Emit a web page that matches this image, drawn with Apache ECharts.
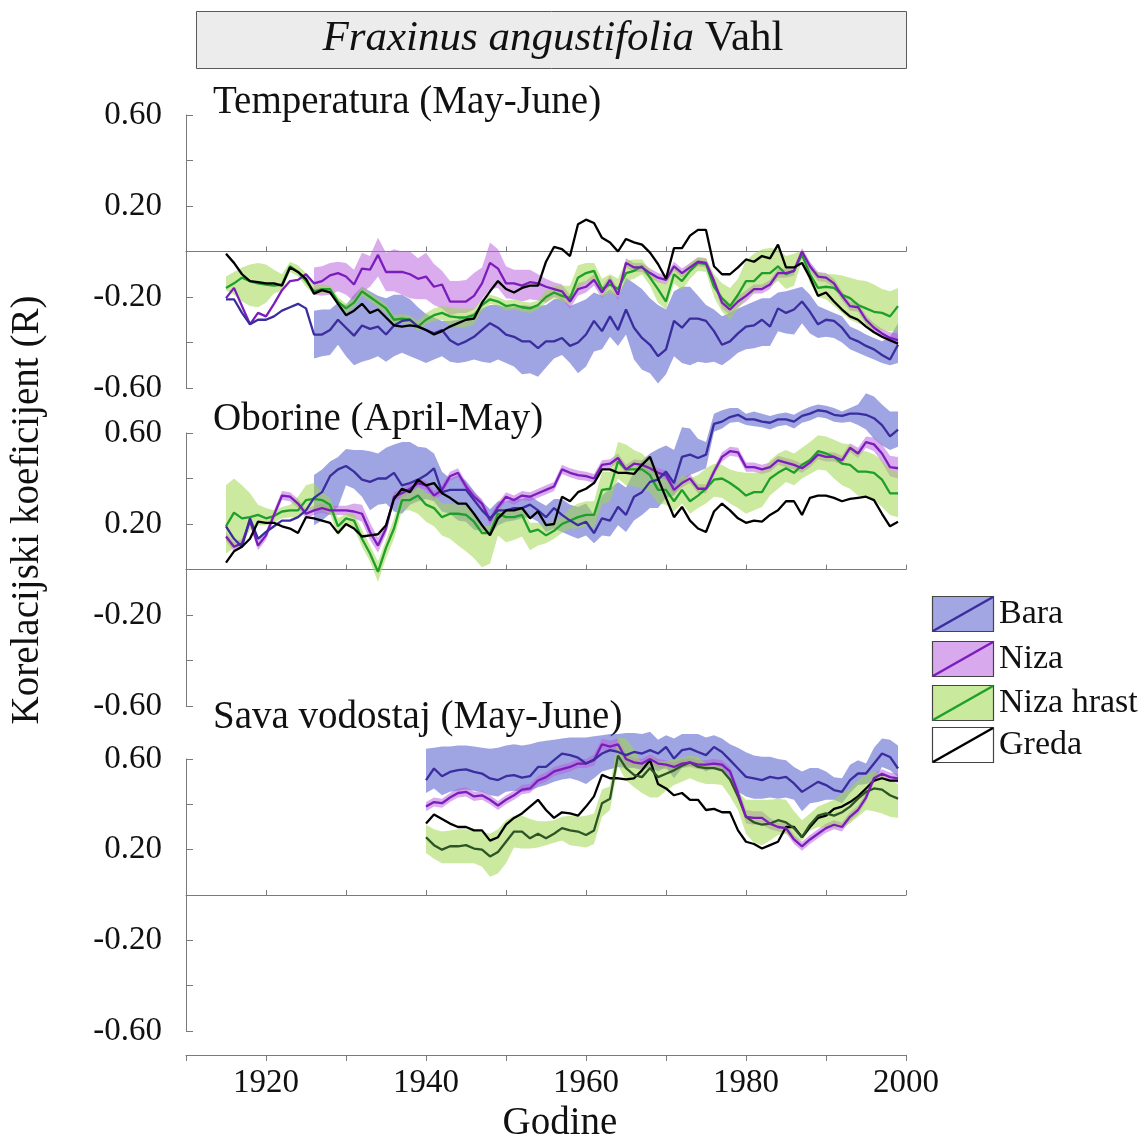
<!DOCTYPE html>
<html><head><meta charset="utf-8">
<script src="https://cdn.jsdelivr.net/npm/echarts@6/dist/echarts.min.js"></script>
<style>html,body{margin:0;padding:0;background:#fff}#c{width:1148px;height:1139px}</style>
</head><body><div id="c"></div>
<script>
// ---------------- DATA ----------------
const SERIES_NAMES = ['Bara', 'Niza', 'Niza hrast', 'Greda'];
const PANEL_TITLES = ['Temperatura (May-June)', 'Oborine (April-May)', 'Sava vodostaj (May-June)'];
const X_TICK_LABELS = [1920, 1940, 1960, 1980, 2000];
const Y_TICK_LABELS = [0.6, 0.2, -0.2, -0.6];

// Panel 1: Temperatura, lines 1915-1999, Bara/Niza bands 1926-1999, Niza hrast band 1915-1999
const T_START = 1915, T_BAND_START = 1926;
const T_bara = [-0.21,-0.21,-0.27,-0.32,-0.30,-0.30,-0.285,-0.26,-0.245,-0.23,
 -0.25,-0.365,-0.365,-0.345,-0.30,-0.335,-0.37,-0.325,-0.34,-0.33,
 -0.365,-0.325,-0.305,-0.30,-0.33,-0.345,-0.36,-0.345,-0.39,-0.41,
 -0.395,-0.375,-0.345,-0.315,-0.335,-0.365,-0.375,-0.395,-0.395,-0.425,
 -0.395,-0.395,-0.38,-0.415,-0.40,-0.365,-0.305,-0.35,-0.285,-0.345,
 -0.255,-0.335,-0.38,-0.41,-0.46,-0.43,-0.305,-0.335,-0.295,-0.295,
 -0.305,-0.35,-0.41,-0.395,-0.36,-0.33,-0.325,-0.30,-0.33,-0.25,
 -0.27,-0.255,-0.22,-0.265,-0.32,-0.30,-0.305,-0.335,-0.38,-0.395,
 -0.415,-0.43,-0.455,-0.475,-0.41];
const T_bara_hi = [-0.26,-0.255,-0.255,-0.225,-0.235,-0.19,-0.155,-0.175,-0.195,-0.205,
 -0.19,-0.19,-0.21,-0.245,-0.275,-0.29,-0.305,-0.305,-0.30,-0.285,
 -0.27,-0.25,-0.235,-0.235,-0.245,-0.245,-0.235,-0.24,-0.24,-0.235,
 -0.21,-0.205,-0.24,-0.225,-0.21,-0.18,-0.195,-0.165,-0.2,-0.115,
 -0.14,-0.165,-0.205,-0.235,-0.255,-0.175,-0.155,-0.155,-0.195,-0.235,
 -0.255,-0.285,-0.27,-0.25,-0.235,-0.22,-0.205,-0.205,-0.18,-0.175,
 -0.165,-0.155,-0.19,-0.24,-0.255,-0.27,-0.285,-0.33,-0.345,-0.365,
 -0.38,-0.395,-0.375,-0.315];
const T_bara_lo = [-0.47,-0.46,-0.455,-0.41,-0.46,-0.50,-0.485,-0.475,-0.46,-0.485,
 -0.46,-0.445,-0.46,-0.475,-0.49,-0.475,-0.46,-0.485,-0.49,-0.485,
 -0.475,-0.485,-0.49,-0.475,-0.49,-0.505,-0.54,-0.535,-0.55,-0.51,
 -0.47,-0.455,-0.49,-0.535,-0.505,-0.44,-0.43,-0.375,-0.415,-0.365,
 -0.475,-0.52,-0.535,-0.58,-0.54,-0.46,-0.49,-0.50,-0.485,-0.49,
 -0.485,-0.50,-0.475,-0.445,-0.43,-0.425,-0.415,-0.415,-0.35,-0.36,
 -0.365,-0.315,-0.36,-0.38,-0.375,-0.38,-0.40,-0.43,-0.445,-0.46,
 -0.475,-0.49,-0.50,-0.49];
const T_niza = [-0.205,-0.16,-0.24,-0.32,-0.27,-0.285,-0.23,-0.17,-0.13,-0.125,
 -0.10,-0.14,-0.13,-0.105,-0.095,-0.11,-0.145,-0.075,-0.08,-0.015,
 -0.09,-0.09,-0.09,-0.10,-0.12,-0.11,-0.155,-0.145,-0.22,-0.22,
 -0.22,-0.195,-0.14,-0.05,-0.075,-0.14,-0.14,-0.15,-0.135,-0.14,
 -0.155,-0.165,-0.175,-0.22,-0.165,-0.155,-0.125,-0.18,-0.125,-0.19,
 -0.05,-0.07,-0.07,-0.095,-0.115,-0.125,-0.065,-0.095,-0.07,-0.045,
 -0.05,-0.13,-0.225,-0.255,-0.22,-0.195,-0.165,-0.165,-0.145,-0.095,
 -0.095,-0.085,0.0,-0.065,-0.11,-0.115,-0.14,-0.195,-0.24,-0.245,
 -0.30,-0.335,-0.36,-0.38,-0.39];
const T_niza_hi = [-0.07,-0.065,-0.05,-0.045,-0.05,-0.08,-0.005,-0.02,0.06,-0.005,
 0.01,0.0,0.0,-0.03,-0.005,-0.055,-0.085,-0.13,-0.13,-0.125,
 -0.095,-0.07,0.04,0.01,-0.065,-0.08,-0.08,-0.08,-0.10,-0.12,
 -0.135,-0.145,-0.19,-0.14,-0.13,-0.10,-0.155,-0.105,-0.165,-0.03,
 -0.05,-0.05,-0.075,-0.095,-0.105,-0.045,-0.075,-0.05,-0.025,-0.03,
 -0.11,-0.20,-0.23,-0.195,-0.17,-0.145,-0.145,-0.125,-0.075,-0.075,
 -0.065,0.015,-0.045,-0.09,-0.095,-0.12,-0.175,-0.22,-0.225,-0.28,
 -0.315,-0.34,-0.355,-0.36];
const T_niza_lo = [-0.19,-0.195,-0.19,-0.175,-0.19,-0.22,-0.18,-0.155,-0.11,-0.175,
 -0.175,-0.19,-0.205,-0.21,-0.21,-0.235,-0.25,-0.28,-0.27,-0.27,
 -0.255,-0.21,-0.165,-0.16,-0.205,-0.21,-0.22,-0.21,-0.215,-0.225,
 -0.2,-0.21,-0.25,-0.195,-0.18,-0.15,-0.205,-0.15,-0.215,-0.07,
 -0.09,-0.09,-0.115,-0.135,-0.145,-0.085,-0.115,-0.09,-0.065,-0.07,
 -0.15,-0.25,-0.28,-0.245,-0.22,-0.185,-0.185,-0.165,-0.115,-0.115,
 -0.105,-0.015,-0.085,-0.13,-0.135,-0.16,-0.215,-0.26,-0.265,-0.32,
 -0.355,-0.38,-0.40,-0.41];
const T_hrast = [-0.16,-0.14,-0.115,-0.13,-0.14,-0.145,-0.15,-0.145,-0.065,-0.09,
 -0.13,-0.175,-0.165,-0.165,-0.22,-0.25,-0.225,-0.175,-0.20,-0.225,
 -0.25,-0.30,-0.295,-0.30,-0.33,-0.30,-0.28,-0.27,-0.285,-0.29,
 -0.29,-0.28,-0.235,-0.21,-0.22,-0.24,-0.235,-0.245,-0.25,-0.235,
 -0.20,-0.18,-0.195,-0.205,-0.115,-0.095,-0.085,-0.165,-0.145,-0.165,
 -0.095,-0.085,-0.065,-0.115,-0.165,-0.22,-0.10,-0.13,-0.085,-0.05,
 -0.055,-0.155,-0.205,-0.24,-0.19,-0.13,-0.13,-0.095,-0.095,-0.065,
 -0.10,-0.085,-0.015,-0.10,-0.16,-0.155,-0.16,-0.19,-0.205,-0.235,
 -0.25,-0.265,-0.27,-0.285,-0.24];
const T_hrast_hi = [-0.11,-0.09,-0.07,-0.057,-0.05,-0.057,-0.08,-0.10,-0.045,-0.06,
 -0.095,-0.145,-0.145,-0.15,-0.20,-0.23,-0.205,-0.155,-0.18,-0.205,
 -0.23,-0.28,-0.275,-0.28,-0.305,-0.27,-0.25,-0.24,-0.245,-0.25,
 -0.25,-0.25,-0.21,-0.19,-0.20,-0.215,-0.21,-0.22,-0.225,-0.215,
 -0.17,-0.15,-0.15,-0.15,-0.06,-0.05,-0.05,-0.12,-0.10,-0.12,
 -0.04,-0.035,-0.035,-0.08,-0.13,-0.14,-0.06,-0.09,-0.05,-0.025,
 -0.03,-0.10,-0.14,-0.16,-0.12,-0.04,-0.01,0.01,0.015,0.01,
 -0.02,-0.01,0.005,-0.06,-0.09,-0.10,-0.10,-0.105,-0.115,-0.125,
 -0.13,-0.145,-0.165,-0.175,-0.16];
const T_hrast_lo = [-0.17,-0.19,-0.22,-0.24,-0.245,-0.225,-0.185,-0.17,-0.09,-0.11,
 -0.155,-0.19,-0.185,-0.185,-0.24,-0.27,-0.245,-0.195,-0.22,-0.245,
 -0.27,-0.32,-0.315,-0.32,-0.35,-0.32,-0.305,-0.30,-0.325,-0.335,
 -0.335,-0.32,-0.26,-0.23,-0.24,-0.26,-0.255,-0.265,-0.27,-0.255,
 -0.225,-0.205,-0.22,-0.23,-0.16,-0.135,-0.125,-0.20,-0.18,-0.20,
 -0.13,-0.12,-0.10,-0.15,-0.225,-0.255,-0.14,-0.17,-0.12,-0.085,
 -0.09,-0.20,-0.265,-0.30,-0.25,-0.20,-0.18,-0.155,-0.155,-0.13,
 -0.165,-0.15,-0.04,-0.14,-0.20,-0.21,-0.24,-0.27,-0.30,-0.315,
 -0.33,-0.34,-0.345,-0.35,-0.35];
const T_greda = [-0.01,-0.05,-0.10,-0.13,-0.135,-0.14,-0.14,-0.15,-0.07,-0.09,
 -0.12,-0.185,-0.17,-0.18,-0.23,-0.28,-0.26,-0.23,-0.27,-0.255,
 -0.29,-0.325,-0.33,-0.325,-0.33,-0.345,-0.365,-0.35,-0.33,-0.315,
 -0.30,-0.295,-0.225,-0.175,-0.13,-0.165,-0.18,-0.16,-0.15,-0.15,
 -0.045,0.02,0.01,-0.02,0.12,0.14,0.125,0.06,0.04,0.0,
 0.055,0.04,0.03,-0.005,-0.055,-0.12,0.015,0.015,0.07,0.095,
 0.095,-0.065,-0.10,-0.10,-0.07,-0.035,-0.045,-0.02,-0.03,0.03,
 -0.07,-0.07,-0.05,-0.115,-0.195,-0.18,-0.22,-0.255,-0.285,-0.30,
 -0.33,-0.355,-0.375,-0.39,-0.405];

// Panel 2: Oborine, lines 1915-1999, Bara band 1926-1999, others 1915-1999
const P_START = 1915, P_BAND_START = 1926;
const P_bara = [0.19,0.135,0.10,0.225,0.135,0.165,0.19,0.215,0.215,0.23,
 0.26,0.315,0.34,0.41,0.44,0.455,0.43,0.395,0.385,0.40,
 0.40,0.425,0.37,0.38,0.395,0.415,0.445,0.34,0.35,0.35,
 0.35,0.305,0.26,0.225,0.26,0.26,0.27,0.27,0.285,0.26,
 0.23,0.27,0.24,0.215,0.195,0.21,0.16,0.225,0.215,0.275,
 0.24,0.32,0.34,0.385,0.395,0.43,0.38,0.495,0.505,0.49,
 0.505,0.64,0.65,0.67,0.68,0.66,0.66,0.65,0.645,0.66,
 0.66,0.65,0.675,0.685,0.70,0.695,0.68,0.675,0.685,0.685,
 0.68,0.665,0.635,0.585,0.615];
const P_bara_hi = [0.415,0.44,0.475,0.495,0.53,0.525,0.525,0.52,0.51,0.535,
 0.55,0.56,0.56,0.54,0.535,0.51,0.43,0.40,0.415,0.39,
 0.345,0.30,0.265,0.30,0.30,0.31,0.31,0.325,0.30,0.28,
 0.31,0.31,0.285,0.275,0.29,0.24,0.325,0.355,0.385,0.36,
 0.43,0.48,0.51,0.53,0.545,0.525,0.625,0.62,0.575,0.56,
 0.685,0.70,0.71,0.71,0.685,0.695,0.685,0.675,0.685,0.69,
 0.68,0.70,0.715,0.725,0.72,0.71,0.695,0.71,0.725,0.775,
 0.76,0.725,0.695,0.695];
const P_bara_lo = [0.195,0.215,0.245,0.275,0.37,0.355,0.32,0.26,0.285,0.29,
 0.255,0.245,0.285,0.30,0.31,0.30,0.255,0.245,0.215,0.21,
 0.175,0.17,0.15,0.195,0.21,0.215,0.225,0.23,0.21,0.165,
 0.18,0.165,0.15,0.135,0.15,0.115,0.15,0.145,0.195,0.165,
 0.215,0.24,0.27,0.27,0.315,0.325,0.385,0.415,0.43,0.445,
 0.605,0.62,0.645,0.65,0.635,0.63,0.625,0.615,0.63,0.635,
 0.62,0.645,0.655,0.67,0.665,0.65,0.645,0.65,0.635,0.615,
 0.575,0.545,0.525,0.54];
const P_niza = [0.145,0.10,0.115,0.215,0.105,0.15,0.24,0.325,0.32,0.29,
 0.245,0.26,0.27,0.26,0.26,0.26,0.255,0.245,0.165,0.105,
 0.18,0.32,0.335,0.355,0.38,0.37,0.325,0.35,0.41,0.425,
 0.365,0.32,0.29,0.215,0.275,0.32,0.305,0.325,0.32,0.335,
 0.35,0.365,0.44,0.425,0.415,0.41,0.40,0.46,0.465,0.49,
 0.44,0.465,0.46,0.445,0.425,0.415,0.35,0.38,0.40,0.355,
 0.355,0.43,0.495,0.52,0.515,0.45,0.45,0.44,0.45,0.48,
 0.47,0.46,0.445,0.47,0.505,0.495,0.495,0.48,0.535,0.51,
 0.56,0.55,0.51,0.45,0.445];
const P_niza_hi = [0.165,0.12,0.135,0.235,0.125,0.17,0.26,0.345,0.34,0.31,
 0.265,0.28,0.29,0.28,0.28,0.28,0.29,0.285,0.205,0.14,
 0.205,0.34,0.355,0.375,0.40,0.39,0.345,0.37,0.43,0.445,
 0.385,0.34,0.31,0.235,0.295,0.34,0.325,0.345,0.34,0.355,
 0.37,0.385,0.46,0.445,0.435,0.43,0.42,0.48,0.485,0.51,
 0.46,0.485,0.48,0.465,0.445,0.435,0.37,0.40,0.42,0.375,
 0.375,0.45,0.515,0.54,0.535,0.47,0.47,0.46,0.47,0.50,
 0.49,0.48,0.465,0.49,0.525,0.515,0.515,0.50,0.555,0.535,
 0.585,0.58,0.55,0.50,0.495];
const P_niza_lo = [0.125,0.08,0.095,0.195,0.085,0.13,0.22,0.305,0.30,0.27,
 0.225,0.24,0.25,0.24,0.24,0.24,0.225,0.21,0.13,0.075,
 0.155,0.30,0.315,0.335,0.36,0.35,0.305,0.33,0.39,0.405,
 0.345,0.30,0.27,0.195,0.255,0.30,0.285,0.305,0.30,0.315,
 0.33,0.345,0.42,0.405,0.395,0.39,0.38,0.44,0.445,0.47,
 0.42,0.445,0.44,0.425,0.405,0.395,0.33,0.36,0.38,0.335,
 0.335,0.41,0.475,0.50,0.495,0.43,0.43,0.42,0.43,0.46,
 0.45,0.44,0.425,0.45,0.485,0.475,0.475,0.46,0.515,0.49,
 0.535,0.52,0.47,0.41,0.40];
const P_hrast = [0.19,0.25,0.225,0.23,0.24,0.225,0.235,0.255,0.26,0.26,
 0.305,0.31,0.305,0.285,0.19,0.225,0.215,0.135,0.07,-0.01,
 0.095,0.18,0.305,0.305,0.325,0.285,0.27,0.23,0.245,0.245,
 0.24,0.21,0.16,0.16,0.245,0.23,0.23,0.24,0.165,0.175,
 0.15,0.17,0.20,0.215,0.23,0.24,0.24,0.35,0.355,0.475,
 0.44,0.44,0.44,0.415,0.35,0.35,0.30,0.35,0.30,0.325,
 0.355,0.395,0.40,0.38,0.355,0.325,0.34,0.34,0.40,0.425,
 0.445,0.425,0.46,0.48,0.52,0.51,0.495,0.465,0.46,0.43,
 0.43,0.425,0.395,0.335,0.335];
const P_hrast_hi = [0.37,0.40,0.37,0.335,0.285,0.27,0.26,0.275,0.285,0.32,
 0.37,0.38,0.34,0.315,0.225,0.245,0.245,0.175,0.105,0.035,
 0.13,0.225,0.34,0.335,0.365,0.335,0.33,0.29,0.29,0.285,
 0.28,0.245,0.195,0.19,0.27,0.265,0.265,0.275,0.205,0.205,
 0.195,0.215,0.23,0.27,0.29,0.30,0.30,0.43,0.43,0.56,
 0.55,0.525,0.51,0.475,0.425,0.395,0.36,0.415,0.40,0.415,
 0.445,0.465,0.46,0.44,0.43,0.425,0.425,0.43,0.48,0.51,
 0.525,0.51,0.535,0.56,0.59,0.585,0.57,0.555,0.55,0.52,
 0.52,0.505,0.48,0.44,0.43];
const P_hrast_lo = [0.07,0.095,0.105,0.175,0.195,0.195,0.205,0.225,0.23,0.23,
 0.27,0.26,0.26,0.245,0.15,0.19,0.18,0.10,0.035,-0.055,
 0.05,0.135,0.26,0.26,0.245,0.21,0.19,0.15,0.135,0.105,
 0.08,0.05,0.01,0.025,0.15,0.12,0.13,0.145,0.085,0.105,
 0.115,0.135,0.16,0.18,0.18,0.19,0.185,0.285,0.30,0.40,
 0.37,0.365,0.355,0.34,0.29,0.285,0.255,0.29,0.245,0.27,
 0.29,0.32,0.315,0.29,0.27,0.245,0.26,0.275,0.325,0.355,
 0.385,0.37,0.40,0.42,0.44,0.435,0.40,0.37,0.355,0.325,
 0.32,0.305,0.275,0.24,0.23];
const P_greda = [0.03,0.08,0.10,0.135,0.21,0.205,0.205,0.19,0.18,0.16,
 0.23,0.225,0.215,0.205,0.16,0.20,0.18,0.145,0.15,0.155,
 0.195,0.31,0.355,0.34,0.395,0.37,0.38,0.335,0.315,0.29,
 0.29,0.245,0.195,0.15,0.225,0.26,0.26,0.27,0.225,0.255,
 0.195,0.20,0.32,0.30,0.34,0.355,0.38,0.44,0.44,0.425,
 0.425,0.42,0.46,0.495,0.40,0.315,0.23,0.275,0.215,0.18,
 0.165,0.255,0.29,0.26,0.225,0.205,0.215,0.21,0.24,0.26,
 0.30,0.30,0.24,0.315,0.325,0.325,0.315,0.30,0.31,0.315,
 0.32,0.305,0.245,0.19,0.21];

// Panel 3: Sava vodostaj, all 1940-1999
const S_START = 1940;
const S_bara = [0.507,0.558,0.524,0.543,0.551,0.554,0.543,0.536,0.514,0.507,
 0.524,0.529,0.518,0.524,0.565,0.565,0.595,0.624,0.617,0.606,
 0.58,0.598,0.624,0.639,0.631,0.617,0.631,0.624,0.639,0.624,
 0.653,0.602,0.639,0.646,0.631,0.617,0.653,0.631,0.595,0.558,
 0.521,0.514,0.507,0.521,0.514,0.521,0.492,0.455,0.477,0.499,
 0.485,0.463,0.455,0.507,0.536,0.536,0.58,0.624,0.609,0.558];
const S_bara_hi = [0.645,0.65,0.655,0.655,0.66,0.66,0.655,0.65,0.645,0.65,
 0.66,0.665,0.66,0.665,0.675,0.68,0.685,0.69,0.695,0.695,
 0.695,0.70,0.705,0.71,0.71,0.715,0.715,0.71,0.72,0.685,
 0.705,0.69,0.71,0.71,0.71,0.695,0.705,0.69,0.665,0.65,
 0.63,0.615,0.61,0.61,0.60,0.595,0.565,0.545,0.56,0.56,
 0.545,0.52,0.515,0.575,0.595,0.58,0.65,0.69,0.685,0.66];
const S_bara_lo = [0.45,0.47,0.44,0.455,0.46,0.465,0.46,0.455,0.44,0.435,
 0.455,0.46,0.455,0.46,0.475,0.485,0.50,0.51,0.515,0.505,
 0.49,0.515,0.545,0.555,0.565,0.56,0.56,0.55,0.565,0.545,
 0.565,0.515,0.56,0.57,0.565,0.545,0.565,0.545,0.50,0.455,
 0.435,0.425,0.425,0.43,0.425,0.43,0.42,0.37,0.405,0.41,
 0.42,0.42,0.405,0.45,0.485,0.49,0.50,0.565,0.55,0.52];
const S_niza = [0.39,0.41,0.405,0.43,0.45,0.455,0.435,0.44,0.42,0.395,
 0.42,0.44,0.465,0.47,0.505,0.52,0.545,0.555,0.565,0.58,
 0.58,0.595,0.665,0.655,0.665,0.60,0.585,0.58,0.60,0.58,
 0.575,0.565,0.58,0.585,0.575,0.575,0.58,0.575,0.545,0.45,
 0.345,0.34,0.34,0.315,0.30,0.295,0.245,0.215,0.245,0.27,
 0.295,0.31,0.30,0.345,0.375,0.43,0.515,0.535,0.52,0.515];
const S_niza_hi = [0.41,0.43,0.425,0.45,0.47,0.475,0.455,0.46,0.44,0.415,
 0.44,0.46,0.485,0.49,0.525,0.54,0.565,0.575,0.585,0.60,
 0.60,0.62,0.69,0.68,0.69,0.625,0.605,0.60,0.62,0.60,
 0.595,0.585,0.60,0.605,0.595,0.595,0.60,0.595,0.565,0.475,
 0.375,0.37,0.37,0.34,0.32,0.315,0.265,0.235,0.265,0.29,
 0.315,0.33,0.32,0.365,0.395,0.45,0.535,0.555,0.54,0.535];
const S_niza_lo = [0.37,0.39,0.385,0.41,0.43,0.435,0.415,0.42,0.40,0.375,
 0.40,0.42,0.445,0.45,0.485,0.50,0.525,0.535,0.545,0.56,
 0.56,0.57,0.64,0.63,0.64,0.575,0.565,0.56,0.58,0.56,
 0.555,0.545,0.56,0.565,0.555,0.555,0.56,0.555,0.525,0.425,
 0.315,0.31,0.31,0.29,0.28,0.275,0.225,0.195,0.225,0.25,
 0.275,0.29,0.28,0.325,0.355,0.41,0.495,0.515,0.50,0.495];
const S_hrast = [0.255,0.22,0.20,0.215,0.215,0.22,0.205,0.20,0.17,0.19,
 0.235,0.28,0.28,0.25,0.27,0.25,0.27,0.295,0.285,0.28,
 0.265,0.285,0.405,0.425,0.615,0.56,0.53,0.52,0.56,0.52,
 0.535,0.55,0.57,0.585,0.565,0.56,0.56,0.55,0.51,0.435,
 0.345,0.32,0.31,0.315,0.33,0.32,0.295,0.255,0.31,0.35,
 0.36,0.35,0.365,0.39,0.425,0.455,0.47,0.465,0.44,0.425];
const S_hrast_hi = [0.31,0.29,0.28,0.285,0.29,0.29,0.285,0.28,0.27,0.29,
 0.33,0.35,0.35,0.335,0.325,0.325,0.33,0.345,0.35,0.345,
 0.35,0.36,0.465,0.48,0.695,0.69,0.645,0.575,0.61,0.59,
 0.59,0.60,0.605,0.615,0.61,0.58,0.575,0.565,0.52,0.455,
 0.42,0.42,0.42,0.42,0.425,0.42,0.37,0.33,0.36,0.39,
 0.405,0.42,0.45,0.47,0.505,0.535,0.545,0.53,0.505,0.49];
const S_hrast_lo = [0.185,0.16,0.14,0.14,0.14,0.14,0.14,0.125,0.08,0.095,
 0.14,0.21,0.205,0.205,0.21,0.22,0.23,0.24,0.22,0.215,
 0.21,0.225,0.345,0.375,0.57,0.505,0.475,0.45,0.43,0.43,
 0.46,0.485,0.50,0.515,0.50,0.49,0.49,0.485,0.435,0.375,
 0.27,0.23,0.22,0.24,0.265,0.27,0.24,0.24,0.285,0.30,
 0.30,0.295,0.30,0.315,0.345,0.375,0.37,0.36,0.345,0.34];
const S_greda = [0.315,0.355,0.335,0.315,0.30,0.30,0.285,0.285,0.24,0.255,
 0.31,0.34,0.36,0.39,0.42,0.375,0.34,0.365,0.36,0.35,
 0.39,0.435,0.53,0.515,0.515,0.51,0.515,0.55,0.595,0.49,
 0.47,0.44,0.45,0.42,0.42,0.375,0.38,0.365,0.365,0.285,
 0.235,0.225,0.205,0.22,0.235,0.30,0.30,0.255,0.30,0.34,
 0.35,0.38,0.39,0.41,0.435,0.47,0.505,0.515,0.505,0.505];

// ---------------- STYLE ----------------
const FONT = '"Liberation Serif","Times New Roman",serif';
const C = {
  bara: '#3a2d9e', niza: '#7b1dbd', hrast: '#1e9f2a', hrastDark: '#2c5424', greda: '#000000',
  baraBand: 'rgba(70,80,200,0.52)', nizaBand: 'rgba(185,95,220,0.52)', hrastBand: 'rgba(160,215,80,0.55)',
  baraBox: '#a2a6e3', nizaBox: '#d9a9ee', hrastBox: '#c9e99c'
};
const AX = '#7a7a7a';
const LW = 2.3;
const GRIDS = [{top:115,height:273},{top:433,height:273},{top:759,height:272}];

function lineS(start, vals, color, idx, w) {
  return { type:'line', xAxisIndex: idx, yAxisIndex: idx, data: vals.map((v,i)=>[start+i, v]),
    showSymbol:false, symbol:'none', clip:false, silent:true, z:3,
    lineStyle:{ color, width: w || LW } };
}
function bandS(start, lo, hi, fill, idx) {
  return { type:'custom', xAxisIndex: idx, yAxisIndex: idx, clip:false, silent:true, z:2,
    data: lo.map((v,i)=>[start+i, v, hi[i]]),
    encode:{ x:0, y:[1,2] },
    renderItem(params, api) {
      if (params.dataIndex !== 0) return null;
      const top = [], bot = [];
      for (let i = 0; i < lo.length; i++) {
        top.push(api.coord([start+i, hi[i]]));
        bot.push(api.coord([start+i, lo[i]]));
      }
      return { type:'polygon', shape:{ points: top.concat(bot.reverse()) }, style:{ fill } };
    } };
}

const series = [
  bandS(T_BAND_START, T_bara_lo, T_bara_hi, C.baraBand, 0),
  bandS(T_BAND_START, T_niza_lo, T_niza_hi, C.nizaBand, 0),
  bandS(T_START, T_hrast_lo, T_hrast_hi, C.hrastBand, 0),
  lineS(T_START, T_hrast, C.hrast, 0),
  lineS(T_START, T_niza, C.niza, 0),
  lineS(T_START, T_bara, C.bara, 0),
  lineS(T_START, T_greda, C.greda, 0),

  bandS(P_BAND_START, P_bara_lo, P_bara_hi, C.baraBand, 1),
  bandS(P_START, P_niza_lo, P_niza_hi, C.nizaBand, 1),
  bandS(P_START, P_hrast_lo, P_hrast_hi, C.hrastBand, 1),
  lineS(P_START, P_hrast, C.hrast, 1),
  lineS(P_START, P_niza, C.niza, 1),
  lineS(P_START, P_bara, C.bara, 1),
  lineS(P_START, P_greda, C.greda, 1),

  bandS(S_START, S_bara_lo, S_bara_hi, C.baraBand, 2),
  bandS(S_START, S_niza_lo, S_niza_hi, C.nizaBand, 2),
  bandS(S_START, S_hrast_lo, S_hrast_hi, C.hrastBand, 2),
  lineS(S_START, S_greda, C.greda, 2),
  lineS(S_START, S_hrast, C.hrastDark, 2),
  lineS(S_START, S_niza, C.niza, 2),
  lineS(S_START, S_bara, C.bara, 2)
];

const xAxis = [0,1,2].map(i => ({
  type:'value', gridIndex:i, min:1910, max:2000, interval:10,
  position: i === 2 ? 'top' : 'bottom',
  axisLine:{ onZero:true, lineStyle:{ color:AX, width:1 } },
  axisTick:{ show:true, inside: i !== 2, length:5, lineStyle:{ color:AX } },
  axisLabel:{ show:false }, splitLine:{ show:false }
}));
xAxis.push({
  type:'value', gridIndex:2, min:1910, max:2000, interval:10, position:'bottom', offset:24,
  axisLine:{ onZero:false, lineStyle:{ color:AX, width:1 } },
  axisTick:{ show:true, inside:false, length:6, lineStyle:{ color:AX } },
  axisLabel:{ formatter: v => X_TICK_LABELS.indexOf(v) >= 0 ? String(v) : '',
    fontFamily:FONT, fontSize:33, color:'#111', margin:12 },
  splitLine:{ show:false }
});

const yAxis = [0,1,2].map(i => ({
  type:'value', gridIndex:i, min:-0.6, max:0.6, interval:0.2, position:'left',
  axisLine:{ show:true, onZero:false, lineStyle:{ color:AX, width:1 } },
  axisTick:{ show:true, inside:true, length:7, lineStyle:{ color:AX } },
  axisLabel:{ formatter: v => Y_TICK_LABELS.some(t => Math.abs(t - v) < 1e-6) ? v.toFixed(2) : '',
    fontFamily:FONT, fontSize:33, color:'#111', margin:24 },
  splitLine:{ show:false }
}));

const grid = GRIDS.map(g => ({ left:186, width:720, top:g.top, height:g.height }));

const txt = (text, x, y, size, extra) => Object.assign({
  type:'text', silent:true,
  style:{ text, x, y, fontFamily:FONT, fontSize:size, fill:'#111', align:'left', verticalAlign:'middle' }
}, extra || {});

const graphic = [
  { type:'rect', silent:true, shape:{ x:196.5, y:11.5, width:710, height:57 },
    style:{ fill:'#ececec', stroke:'#5a5a5a', lineWidth:1 } },
  { type:'text', silent:true, style:{ text:'{i|Fraxinus angustifolia} Vahl', x:553, y:39,
      fontFamily:FONT, fontSize:43, fill:'#111', align:'center', verticalAlign:'middle',
      rich:{ i:{ fontFamily:FONT, fontSize:43, fontStyle:'italic', fill:'#111' } } } },
  txt(PANEL_TITLES[0], 213, 103, 39),
  txt(PANEL_TITLES[1], 213, 420, 39),
  txt(PANEL_TITLES[2], 213, 718, 39),
  { type:'text', silent:true, rotation: Math.PI/2, x:28, y:510,
    style:{ text:'Korelacijski koeficijent (R)', x:0, y:0, fontFamily:FONT, fontSize:39, fill:'#111',
      align:'center', verticalAlign:'middle' } },
  { type:'text', silent:true, style:{ text:'Godine', x:560, y:1124, fontFamily:FONT, fontSize:39,
      fill:'#111', align:'center', verticalAlign:'middle' } }
];
// legend (drawn as graphics)
const LEG = [
  { name:SERIES_NAMES[0], box:C.baraBox, line:C.bara, y:596 },
  { name:SERIES_NAMES[1], box:C.nizaBox, line:C.niza, y:641 },
  { name:SERIES_NAMES[2], box:C.hrastBox, line:C.hrast, y:685 },
  { name:SERIES_NAMES[3], box:'#ffffff', line:C.greda, y:727 }
];
LEG.forEach(l => {
  graphic.push({ type:'rect', silent:true, shape:{ x:932.5, y:l.y+0.5, width:61, height:35 },
    style:{ fill:l.box, stroke:'#444', lineWidth:1.2 } });
  graphic.push({ type:'line', silent:true, shape:{ x1:933, y1:l.y+35, x2:993, y2:l.y+1 },
    style:{ stroke:l.line, lineWidth:2.5 } });
  graphic.push(txt(l.name, 999, l.y+18, 34));
});

const chart = echarts.init(document.getElementById('c'), null, { renderer:'canvas' });
chart.setOption({ animation:false, backgroundColor:'#ffffff', grid, xAxis, yAxis, series, graphic });
</script>
</body></html>
